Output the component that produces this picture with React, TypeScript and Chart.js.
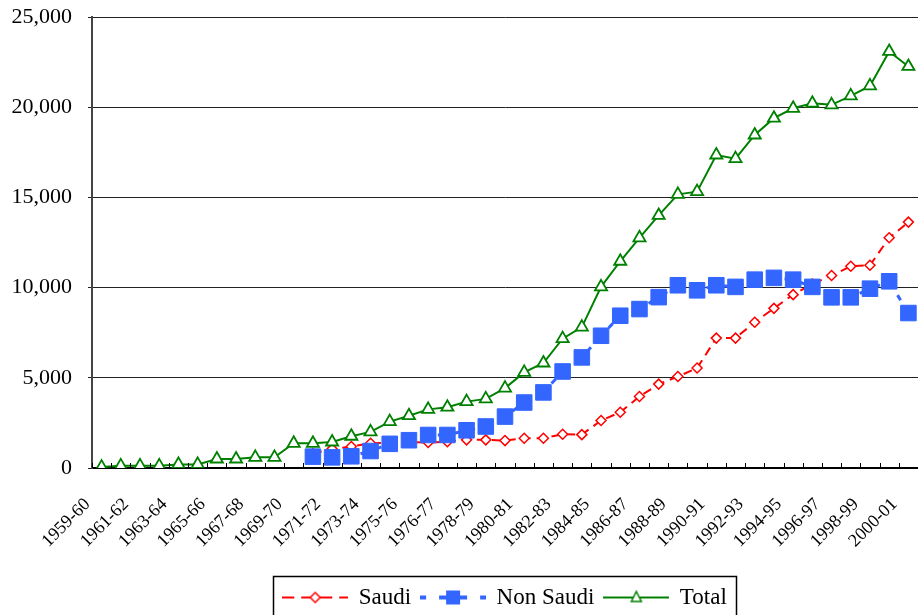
import React, { useEffect, useRef } from "react";
import { Chart, registerables } from "chart.js";

Chart.register(...registerables);

const categories = [
  "1959-60", "1960-61", "1961-62", "1962-63", "1963-64", "1964-65", "1965-66", "1966-67",
  "1967-68", "1968-69", "1969-70", "1970-71", "1971-72", "1972-73", "1973-74", "1974-75",
  "1975-76", "1976", "1976-77", "1977-78", "1978-79", "1979-80", "1980-81", "1981-82",
  "1982-83", "1983-84", "1984-85", "1985-86", "1986-87", "1987-88", "1988-89", "1989-90",
  "1990-91", "1991-92", "1992-93", "1993-94", "1994-95", "1995-96", "1996-97", "1997-98",
  "1998-99", "1999-00", "2000-01",
];

const saudi = [
  null, null, null, null, null, null, null, null, null, null, null,
  800, 1060, 1190, 1370, 1400, 1450, 1410, 1460, 1560, 1560, 1520, 1650, 1650,
  1870, 1850, 2630, 3090, 3960, 4650, 5070, 5540, 7200, 7200, 8080, 8850, 9610,
  10200, 10670, 11180, 11240, 12760, 13630,
];

const nonSaudi = [
  null, null, null, null, null, null, null, null, null, null, null,
  630, 590, 650, 940, 1340, 1540, 1830, 1830, 2090, 2300, 2850, 3630, 4190,
  5350, 6130, 7330, 8440, 8810, 9470, 10130, 9850, 10130, 10040, 10440, 10540, 10440,
  10040, 9460, 9460, 9940, 10350, 8590,
];

const total = [
  50, 120, 120, 120, 200, 200, 500, 500, 590, 590, 1370,
  1370, 1440, 1760, 2000, 2570, 2900, 3250, 3370, 3680, 3830, 4430, 5300, 5820,
  7170, 7810, 10040, 11460, 12760, 14000, 15170, 15320, 17350, 17150, 18460, 19390, 19940,
  20220, 20130, 20630, 21180, 23090, 22260,
];

const yTicks = [0, 5000, 10000, 15000, 20000, 25000];

const RED = "#FF0000";
const BLUE = "#3366FF";
const GREEN = "#008000";
const FONT = "'Liberation Serif', 'Times New Roman', serif";

function makeSample(kind: "saudi" | "non" | "total"): HTMLCanvasElement {
  const c = document.createElement("canvas");
  c.width = 66;
  c.height = 24;
  const ctx = c.getContext("2d")!;
  const cy = 12;
  const mid = 33;
  ctx.lineCap = "butt";
  if (kind === "saudi") {
    ctx.strokeStyle = RED;
    ctx.lineWidth = 2;
    ctx.setLineDash([12, 7]);
    ctx.beginPath();
    ctx.moveTo(0, cy);
    ctx.lineTo(66, cy);
    ctx.stroke();
    ctx.setLineDash([]);
    ctx.fillStyle = "#fff";
    ctx.beginPath();
    ctx.moveTo(mid, cy - 5);
    ctx.lineTo(mid + 5, cy);
    ctx.lineTo(mid, cy + 5);
    ctx.lineTo(mid - 5, cy);
    ctx.closePath();
    ctx.fill();
    ctx.lineWidth = 1.5;
    ctx.stroke();
  } else if (kind === "non") {
    ctx.strokeStyle = BLUE;
    ctx.lineWidth = 4;
    ctx.beginPath();
    ctx.moveTo(0, cy);
    ctx.lineTo(6, cy);
    ctx.moveTo(19, cy);
    ctx.lineTo(47, cy);
    ctx.moveTo(60, cy);
    ctx.lineTo(66, cy);
    ctx.stroke();
    ctx.fillStyle = BLUE;
    ctx.fillRect(mid - 7, cy - 7, 14, 14);
  } else {
    ctx.strokeStyle = GREEN;
    ctx.lineWidth = 2;
    ctx.beginPath();
    ctx.moveTo(0, cy);
    ctx.lineTo(66, cy);
    ctx.stroke();
    ctx.fillStyle = "#fff";
    ctx.beginPath();
    ctx.moveTo(mid, cy - 6);
    ctx.lineTo(mid + 5, cy + 4);
    ctx.lineTo(mid - 5, cy + 4);
    ctx.closePath();
    ctx.fill();
    ctx.lineWidth = 1.5;
    ctx.stroke();
  }
  return c;
}

const innerTicksPlugin = {
  id: "innerTicks",
  afterDatasetsDraw(chart: any) {
    const xs = chart.scales.x;
    const area = chart.chartArea;
    const n = categories.length;
    const w = xs.getPixelForValue(1) - xs.getPixelForValue(0);
    const ctx = chart.ctx;
    ctx.save();
    ctx.strokeStyle = "#000";
    ctx.lineWidth = 1;
    for (let i = 0; i <= n; i++) {
      const x = Math.round(xs.getPixelForValue(i) - w / 2) + 0.5;
      ctx.beginPath();
      ctx.moveTo(x, area.bottom);
      ctx.lineTo(x, area.bottom - 5);
      ctx.stroke();
    }
    ctx.restore();
  },
};

const legendBoxPlugin = {
  id: "legendBox",
  afterDraw(chart: any) {
    const lg = chart.legend;
    if (!lg || !lg.legendHitBoxes || !lg.legendHitBoxes.length) return;
    const hb = lg.legendHitBoxes;
    let l = Infinity;
    let r = -Infinity;
    for (const h of hb) {
      l = Math.min(l, h.left);
      r = Math.max(r, h.left + h.width);
    }
    const ctx = chart.ctx;
    ctx.save();
    ctx.strokeStyle = "#000";
    ctx.lineWidth = 1.5;
    ctx.strokeRect(Math.round(l - 10) + 0.5, Math.round(lg.top) + 0.5, Math.round(r - l + 19), 80);
    ctx.restore();
  },
};

function zeroPadding(s: any) {
  s.paddingTop = 0;
  s.paddingBottom = 0;
  s.paddingLeft = 0;
  s.paddingRight = 0;
}

export default function App() {
  const ref = useRef<HTMLCanvasElement | null>(null);

  useEffect(() => {
    if (!ref.current) return;
    Chart.defaults.font.family = FONT;
    Chart.defaults.color = "#000";
    const samples = [makeSample("saudi"), makeSample("non"), makeSample("total")];
    const chart = new Chart(ref.current, {
      type: "line",
      data: {
        labels: categories,
        datasets: [
          {
            label: "Saudi",
            data: saudi,
            borderColor: RED,
            borderWidth: 2,
            borderDash: [9, 6],
            pointStyle: "rectRot",
            pointRadius: 5,
            pointBorderWidth: 1.5,
            pointBackgroundColor: "#fff",
            pointBorderColor: RED,
            spanGaps: false,
            order: 1,
          },
          {
            label: "Non Saudi",
            data: nonSaudi,
            borderColor: BLUE,
            borderWidth: 3,
            borderDash: [6, 10],
            pointStyle: "rect",
            pointRadius: 11,
            pointBorderWidth: 1,
            pointBackgroundColor: BLUE,
            pointBorderColor: BLUE,
            order: 0,
          },
          {
            label: "Total",
            data: total,
            borderColor: GREEN,
            borderWidth: 2,
            pointStyle: "triangle",
            pointRadius: 7,
            pointBorderWidth: 1.8,
            pointBackgroundColor: "#fff",
            pointBorderColor: GREEN,
            order: 0,
          },
        ],
      },
      options: {
        responsive: false,
        animation: false,
        layout: { padding: { top: 17, right: 8, bottom: 11, left: 0 } },
        plugins: {
          tooltip: { enabled: false },
          legend: {
            position: "bottom",
            fullSize: false,
            labels: {
              usePointStyle: true,
              pointStyleWidth: 64,
              boxHeight: 23,
              padding: 10,
              font: { size: 23, family: FONT },
              color: "#000",
              generateLabels: (chart: any) =>
                chart.data.datasets.map((ds: any, i: number) => ({
                  text: ds.label,
                  pointStyle: samples[i],
                  fillStyle: "#fff",
                  strokeStyle: "#fff",
                  lineWidth: 0,
                  hidden: false,
                  datasetIndex: i,
                  fontColor: "#000",
                })),
            },
          },
        },
        scales: {
          x: {
            type: "category",
            offset: true,
            grid: { display: false, drawTicks: false },
            border: { display: true, color: "#000", width: 2 },
            ticks: {
              autoSkip: false,
              minRotation: 45,
              maxRotation: 45,
              padding: 26,
              labelOffset: -14,
              font: { size: 18, family: FONT },
              color: "#000",
              callback: (_v: any, i: number) => (i % 2 === 0 ? categories[i] : ""),
            },
            afterFit: (s: any) => {
              s.height = 108;
              zeroPadding(s);
            },
          },
          y: {
            min: yTicks[0],
            max: yTicks[yTicks.length - 1],
            afterBuildTicks: (s: any) => {
              s.ticks = yTicks.map((v) => ({ value: v }));
            },
            grid: { color: "#222", lineWidth: 1, drawTicks: true, tickLength: 4 },
            border: { display: true, color: "#444", width: 2 },
            ticks: {
              padding: 16,
              font: { size: 22, family: FONT },
              color: "#000",
              callback: (v: any) => Number(v).toLocaleString("en-US"),
            },
            afterFit: (s: any) => {
              s.width = 92;
              zeroPadding(s);
            },
          },
        },
      },
      plugins: [innerTicksPlugin, legendBoxPlugin],
    });
    return () => chart.destroy();
  }, []);

  return (
    <div style={{ position: "fixed", left: 0, top: 0, width: 930, height: 630, background: "#fff" }}>
      <canvas ref={ref} width={930} height={630} style={{ width: 930, height: 630, display: "block" }} />
    </div>
  );
}
